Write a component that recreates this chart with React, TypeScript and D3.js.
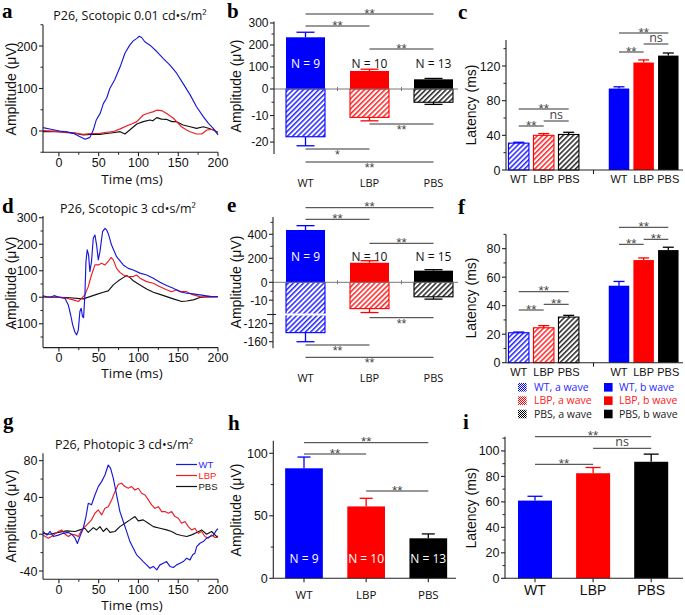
import React from 'react';
import * as d3 from 'd3';

type Pt = [number, number];

const GROUPS = ['WT', 'LBP', 'PBS'];
const TIME_TICKS = [0, 50, 100, 150, 200];
const TIME_MINOR = [25, 75, 125, 175];

// ---- ERG traces (time ms, amplitude uV) ----
const A_WT: Pt[] = [[-20,7.8],[-10,4],[1,0],[10,-2],[18,-5.5],[26,-13],[33,-19.6],[39,-15],[43,1],[47,26],[52,42],[56,65],[60,77],[64,100],[70,120],[77,151],[83,183],[89,202],[93.5,212],[98,218],[101,223],[104,220],[108,210],[114.5,202],[123,187],[131,171],[139.6,155],[148,136],[156,112],[165,85],[173,57],[181.5,34],[188,18],[194,6],[200,-9]];
const A_LBP: Pt[] = [[-20,1],[-5,-1],[10,-4],[20,-5],[30.6,-7.8],[40,-6],[51.6,-5.5],[60,-3],[68,-1.6],[77,5],[85,12],[92,17],[98,22],[106,37.6],[112,41.6],[118,45],[123,49],[129,48],[135,41.6],[144,30],[150,18],[154,10],[160,3],[165,-1.6],[173,-7],[179.5,-7],[186,2.4],[194,4],[200,-5.5]];
const A_PBS: Pt[] = [[-20,-1.6],[-5,-1],[10,-3],[20,-5],[30.6,-9.4],[40,-8],[51.6,-7.8],[60,-6],[68,-4],[77,-1.6],[83,-7],[89,2.4],[98,16.5],[106,22],[114.5,26],[118,24],[123,31.4],[129,28],[135,27.5],[142,22],[148,22],[156,14],[165,10],[173,6.3],[181.5,10],[188,6.3],[194,2.4],[200,-3]];

const D_WT: Pt[] = [[-20,5],[-15,2],[-11,0],[-6,6],[1,-1],[7.6,-4],[11.8,-29],[14.8,-67],[17.3,-104],[20.2,-132],[22.3,-142],[24.4,-123],[26.4,-54],[28,-41.5],[29.7,-73],[31,-77],[32.7,9],[34,135],[35.6,179],[37.3,160],[38.9,97],[41,135],[43.2,223],[45.3,235],[47.4,197],[49.5,141],[51.6,172],[54.9,248],[57.9,260],[60,254],[62,241],[66.2,197],[72.5,153],[80.9,122],[87.2,109],[93.5,103],[101.9,91],[110.3,84],[118.7,72],[127,57],[135.4,44],[143.8,34],[152.2,21],[160.6,15],[169,12.6],[177.3,8.8],[185.7,5],[192,2.5],[200,2.5]];
const D_LBP: Pt[] = [[-20,1],[1,1],[9.6,-4],[18,-10],[24.4,-16],[28.6,-4],[32.7,9],[36.9,40],[41,84],[45.3,122],[49.5,122],[53.7,128],[57.9,122],[62,135],[65.4,150],[68.4,141],[72.5,109],[76.7,94],[80.9,84],[87.2,78],[93.5,78],[97.7,84],[101.9,72],[110.3,59],[118.7,53],[127,40],[135.4,28],[141.7,21],[148,28],[154.3,21],[160.6,21],[166.9,11],[177.3,2.5],[187.8,0],[200,2.5]];
const D_PBS: Pt[] = [[-20,1],[9.6,-1],[30.6,-6],[39,2.5],[47.4,11],[55.8,19],[62,24],[68.4,46.5],[74.7,62],[80.9,74],[85.2,82],[89.3,74],[93.5,62],[101.9,46.5],[110.3,31],[118.7,19],[127,11],[135.4,2.5],[143.8,-6],[154.3,-16],[160.6,-14],[169,-10],[177.3,-1],[187.8,2.5],[200,2.5]];

const G_WT: Pt[] = [[-20,3],[-15,-1],[-11,3],[-7,-2.5],[-0.7,-1],[5.6,1],[11.9,2],[16,0],[20.2,-4],[23.2,-10],[26.4,-2.5],[30.6,6.5],[34,19],[36.9,33.7],[41,32],[45.3,42.7],[49.5,51.8],[53.7,57.2],[57.9,64.4],[62,75.3],[65,71.7],[68.4,60.8],[72.5,42.7],[76.7,24.6],[80.9,13.8],[85.2,2.9],[89.3,-8],[93.5,-15.2],[97.7,-22.4],[101.9,-26],[106,-29.7],[110.3,-33.3],[114.5,-37],[118.7,-35],[123,-38.7],[127,-33.3],[131.2,-31.5],[135.4,-29.7],[139.6,-35],[143.8,-36.2],[148,-33.3],[152.2,-31.5],[156.4,-29.7],[160.6,-26],[164.8,-27.9],[168.2,-22.4],[171,-20.6],[173.2,-13.4],[177.3,-9.8],[181.5,-8],[185.7,-4.3],[189.9,-2.5],[194,-1.4],[198.3,4.7],[200,6]];
const G_LBP: Pt[] = [[-20,-1],[-13.2,-4.3],[-6.9,-1],[-0.7,3],[3.5,4.7],[7.7,0],[11.9,-2.5],[16,0],[20.2,-0.7],[24.4,-2.5],[28.6,4.7],[34.8,10],[41,15.6],[45.3,22.8],[49.5,26.4],[53.7,21],[57.9,28.2],[62,30],[66.3,37.3],[70.4,46.3],[74.7,54.3],[78.8,55.4],[83,51.8],[87.2,50],[91.4,51.8],[95.6,48.1],[99.8,50],[104,44.5],[108.2,42.7],[112.4,37.3],[116.6,31.9],[120.8,28.2],[125,30],[129.2,24.6],[133.3,24.6],[137.5,22.8],[141.7,24.6],[145.9,19.2],[150.1,17.4],[154.3,12],[158.5,13.8],[162.7,8.3],[166.9,4.7],[171,6.5],[175.2,1],[179.4,3],[183.6,-2.5],[187.8,-4.3],[192,-0.7],[196.2,-3.6],[200,-3.6]];
const G_PBS: Pt[] = [[-20,1],[-11,0],[-0.7,2],[9.8,3.6],[20.2,3],[26.4,4.7],[32.7,6.5],[36.9,2],[43.2,7.2],[47.4,4.7],[51.6,8.3],[55.8,3],[60,6.5],[64.2,2],[70.4,3],[76.7,8.3],[83,12],[89.3,15.6],[95.6,19.2],[99.8,14.5],[106,15.6],[112.4,12],[118.7,8.3],[127,6.5],[135.4,4.7],[141.7,3],[148,0],[154.3,-1.4],[160.6,-2.5],[166.9,-0.7],[173.2,2],[179.4,4.7],[185.7,0],[192,3],[198.3,-2.5],[200,-2]];

// ---- bar data ----
const B_BWAVE = [235, 82, 44];
const B_BWAVE_SEM = [23, 8, 4];
const B_AWAVE = [-18, -10.7, -5];
const B_AWAVE_SEM = [3.4, 1.3, 0.8];
const B_N = ['N = 9', 'N = 10', 'N = 13'];

const E_BWAVE = [436, 163, 97];
const E_BWAVE_SEM = [36, 17, 8];
const E_AWAVE = [-140, -14.7, -8.1];
const E_AWAVE_SEM = [20, 2.2, 1.3];
const E_N = ['N = 9', 'N = 10', 'N = 15'];

const C_AWAVE = [31, 40, 41];
const C_AWAVE_SEM = [1, 2, 2.5];
const C_BWAVE = [94, 124, 132];
const C_BWAVE_SEM = [2, 3, 3];

const F_AWAVE = [21, 24.5, 32];
const F_AWAVE_SEM = [0.5, 1.5, 1.2];
const F_BWAVE = [54, 72, 79];
const F_BWAVE_SEM = [3, 1.5, 2];

const H_AMP = [88, 57.5, 32];
const H_SEM = [9, 6.5, 3.5];
const H_N = ['N = 9', 'N = 10', 'N = 13'];

const I_LAT = [61, 82.5, 91.5];
const I_SEM = [3.4, 4.5, 6];

const LEGEND_A = ['WT, a wave', 'LBP, a wave', 'PBS, a wave'];
const LEGEND_B = ['WT, b wave', 'LBP, b wave', 'PBS, b wave'];

// significance comparisons [from, to, label]
const B_SIG_UP = [['WT', 'PBS', '**'], ['WT', 'LBP', '**'], ['LBP', 'PBS', '**']];
const B_SIG_DOWN = [['LBP', 'PBS', '**'], ['WT', 'LBP', '*'], ['WT', 'PBS', '**']];
const E_SIG_UP = [['WT', 'PBS', '**'], ['WT', 'LBP', '**'], ['LBP', 'PBS', '**']];
const E_SIG_DOWN = [['LBP', 'PBS', '**'], ['WT', 'LBP', '**'], ['WT', 'PBS', '**']];
const C_SIG_A = [['WT', 'PBS', '**'], ['WT', 'LBP', '**'], ['LBP', 'PBS', 'ns']];
const C_SIG_B = [['WT', 'PBS', '**'], ['WT', 'LBP', '**'], ['LBP', 'PBS', 'ns']];
const F_SIG_A = [['WT', 'PBS', '**'], ['WT', 'LBP', '**'], ['LBP', 'PBS', '**']];
const F_SIG_B = [['WT', 'PBS', '**'], ['WT', 'LBP', '**'], ['LBP', 'PBS', '**']];
const H_SIG = [['WT', 'PBS', '**'], ['WT', 'LBP', '**'], ['LBP', 'PBS', '**']];
const I_SIG = [['WT', 'PBS', '**'], ['LBP', 'PBS', 'ns'], ['WT', 'LBP', '**']];

// ---- styles ----
const SANS = "'Liberation Sans', Arial, Helvetica, sans-serif";
const OPEN = "'Open Sans', 'Noto Sans', sans-serif";
const SERIF = "'Liberation Serif', 'Times New Roman', serif";
const BAR_COLORS = ['#0000ff', '#ff0000', '#000000'];
const HATCH_IDS = ['hBlue', 'hRed', 'hBlack'];
const XH_IDS = ['xBlue', 'xRed', 'xBlack'];
const LINE_COLORS = ['#1818d8', '#ec1c24', '#111111'];
const LEG_TEXT = ['#2a2aff', '#ff2020', '#222'];
const AX = '#222';

function YAxis({ scale, x, top, bottom, major, minor = [], fs = 12.5 }: any) {
  return (
    <g>
      <line x1={x} x2={x} y1={top} y2={bottom} stroke={AX} strokeWidth={1.1} />
      {major.map((t: number) => (
        <g key={'M' + t}>
          <line x1={x - 4} x2={x} y1={scale(t)} y2={scale(t)} stroke={AX} strokeWidth={1.1} />
          <text x={x - 5.5} y={scale(t)} dy="0.36em" textAnchor="end" fontSize={fs} fontFamily={SANS} fill="#111">{String(t)}</text>
        </g>
      ))}
      {minor.map((t: number) => (
        <line key={'m' + t} x1={x - 2.5} x2={x} y1={scale(t)} y2={scale(t)} stroke={AX} strokeWidth={1} />
      ))}
    </g>
  );
}

function TimeAxis({ scale, y, labelY }: any) {
  const [x0, x1] = scale.range();
  return (
    <g>
      <line x1={x0} x2={x1} y1={y} y2={y} stroke={AX} strokeWidth={1.1} />
      {TIME_TICKS.map((t) => (
        <g key={t}>
          <line x1={scale(t)} x2={scale(t)} y1={y} y2={y + 4} stroke={AX} strokeWidth={1.1} />
          <text x={scale(t)} y={labelY} textAnchor="middle" fontSize={12.5} fontFamily={SANS} fill="#111">{String(t)}</text>
        </g>
      ))}
      {TIME_MINOR.map((t) => (
        <line key={'m' + t} x1={scale(t)} x2={scale(t)} y1={y} y2={y + 2.5} stroke={AX} />
      ))}
    </g>
  );
}

function YLabel({ x, y, text, fs = 14 }: any) {
  return (
    <text transform={`translate(${x},${y}) rotate(-90)`} textAnchor="middle" fontSize={fs} fontFamily={SANS} fill="#111">{text}</text>
  );
}

function Letter({ x, y, t }: any) {
  return <text x={x} y={y} fontSize={21} fontWeight="bold" fontFamily={SERIF} fill="#000">{t}</text>;
}

function Sig({ x1, x2, y, label, below = false }: any) {
  const cx = (x1 + x2) / 2;
  const star = label.includes('*');
  const ty = below ? y + 10 : star ? y + 3.5 : y - 2.5;
  const fs = star ? (below ? 12.5 : 13.5) : 12.5;
  return (
    <g>
      <line x1={x1} x2={x2} y1={y} y2={y} stroke="#333" strokeWidth={1} />
      <text x={cx} y={ty} textAnchor="middle" fontSize={fs} fontFamily={star ? SANS : OPEN} fill="#444">{label}</text>
    </g>
  );
}

function Bar({ cx, w, v, err, scale, i, hatch = false, cap }: any) {
  const y0 = scale(0);
  const y1 = scale(v);
  const end = scale(v + Math.sign(v) * err);
  const color = BAR_COLORS[i];
  return (
    <g>
      <line x1={cx} x2={cx} y1={y1} y2={end} stroke={color} strokeWidth={1.3} />
      <line x1={cx - cap / 2} x2={cx + cap / 2} y1={end} y2={end} stroke={color} strokeWidth={1.3} />
      <rect x={cx - w / 2} y={Math.min(y0, y1)} width={w} height={Math.abs(y1 - y0)}
        fill={hatch ? `url(#${HATCH_IDS[i]})` : color} stroke={color} strokeWidth={hatch ? 1.1 : 0} />
    </g>
  );
}

function Trace({ data, xs, ys, i }: any) {
  const line = d3.line<Pt>().x((d) => xs(d[0])).y((d) => ys(d[1]));
  return <path d={line(data) || ''} fill="none" stroke={LINE_COLORS[i]} strokeWidth={1.15} strokeLinejoin="round" />;
}

function CatLabels({ xs, y, fs, family }: any) {
  return (
    <g>
      {GROUPS.map((g) => (
        <text key={g} x={xs(g)} y={y} textAnchor="middle" fontSize={fs} fontFamily={family} fill="#111">{g}</text>
      ))}
    </g>
  );
}

// ---------------- Panels ----------------
function PanelA() {
  const xs = d3.scaleLinear().domain([-20, 200]).range([43, 218]);
  const ys = d3.scaleLinear().domain([-50, 250]).range([152.25, 24.75]);
  return (
    <g>
      <Letter x={2} y={18} t="a" />
      <text x={130} y={20} textAnchor="middle" fontSize={12.5} fontFamily={OPEN} fill="#111">P26, Scotopic 0.01 cd•s/m²</text>
      {[A_PBS, A_LBP, A_WT].map((d, k) => <Trace key={k} data={d} xs={xs} ys={ys} i={2 - k} />)}
      <YAxis scale={ys} x={43} top={24.75} bottom={152.25} major={[0, 100, 200]} minor={[-50, 50, 150, 250]} />
      <TimeAxis scale={xs} y={152.25} labelY={167} />
      <YLabel x={16} y={89} text="Amplitude (μV)" />
      <text x={132} y={183.5} textAnchor="middle" fontSize={13.5} fontFamily={OPEN} fill="#111">Time (ms)</text>
    </g>
  );
}

function PanelD() {
  const xs = d3.scaleLinear().domain([-20, 200]).range([43, 218]);
  const ys = d3.scaleLinear().domain([-190, 300]).range([347.6, 217.75]);
  return (
    <g>
      <Letter x={2} y={213} t="d" />
      <text x={128} y={213} textAnchor="middle" fontSize={12.5} fontFamily={OPEN} fill="#111">P26, Scotopic 3 cd•s/m²</text>
      {[D_PBS, D_LBP, D_WT].map((d, k) => <Trace key={k} data={d} xs={xs} ys={ys} i={2 - k} />)}
      <YAxis scale={ys} x={43} top={216} bottom={347.6} major={[-100, 0, 100, 200, 300]} minor={[-150, -50, 50, 150, 250]} />
      <TimeAxis scale={xs} y={347.6} labelY={361.5} />
      <YLabel x={16} y={283} text="Amplitude (μV)" />
      <text x={132} y={378} textAnchor="middle" fontSize={13.5} fontFamily={OPEN} fill="#111">Time (ms)</text>
    </g>
  );
}

function PanelG() {
  const xs = d3.scaleLinear().domain([-20, 200]).range([43, 218]);
  const ys = d3.scaleLinear().domain([-49, 88]).range([579.3, 453.3]);
  const legY = [464.5, 475.5, 486.5];
  return (
    <g>
      <Letter x={3} y={428} t="g" />
      <text x={124} y={449} textAnchor="middle" fontSize={12.5} fontFamily={OPEN} fill="#111">P26, Photopic 3 cd•s/m²</text>
      {[G_PBS, G_LBP, G_WT].map((d, k) => <Trace key={k} data={d} xs={xs} ys={ys} i={2 - k} />)}
      <YAxis scale={ys} x={43} top={453.3} bottom={579.3} major={[-40, 0, 40, 80]} minor={[-20, 20, 60]} />
      <TimeAxis scale={xs} y={579.3} labelY={594} />
      <YLabel x={16} y={516} text="Amplitude (μV)" />
      <text x={132} y={610} textAnchor="middle" fontSize={13.5} fontFamily={OPEN} fill="#111">Time (ms)</text>
      {GROUPS.map((g, i) => (
        <g key={g}>
          <line x1={176} x2={197} y1={legY[i]} y2={legY[i]} stroke={LINE_COLORS[i]} strokeWidth={1.2} />
          <text x={198.5} y={legY[i] + 3.5} fontSize={9.5} fontFamily={SANS} fill={LEG_TEXT[i]}>{g}</text>
        </g>
      ))}
    </g>
  );
}

function SplitPanel({ ys, axisX, top, bottom, major, minor, bwave, bsem, awave, asem, nLabels, nY, sigUp, sigUpY, sigDown, sigDownY, catY, letterY, letter, yLabelY, breakY }: any) {
  const xs = d3.scalePoint<string>().domain(GROUPS).range([305.5, 433.5]);
  const W = 39;
  return (
    <g>
      <Letter x={227} y={letterY} t={letter} />
      {GROUPS.map((g, i) => (
        <g key={g}>
          <Bar cx={xs(g)} w={W} v={bwave[i]} err={bsem[i]} scale={ys} i={i} cap={18} />
          <Bar cx={xs(g)} w={W} v={awave[i]} err={asem[i]} scale={ys} i={i} cap={18} hatch />
        </g>
      ))}
      {breakY !== undefined && (
        <g>
          <line x1={axisX + 3} x2={axisX + 60} y1={breakY} y2={breakY} stroke="#fff" strokeWidth={1.8} />
          <line x1={axisX - 6} x2={axisX + 3} y1={breakY} y2={breakY} stroke={AX} strokeWidth={1.1} />
        </g>
      )}
      <line x1={axisX} x2={458} y1={ys(0)} y2={ys(0)} stroke="#777" strokeWidth={1} />
      {[337.5, 401.5].map((x) => <line key={x} x1={x} x2={x} y1={ys(0) - 2} y2={ys(0) + 2} stroke="#777" />)}
      <YAxis scale={ys} x={axisX} top={top} bottom={bottom} major={major} minor={minor} fs={12} />
      {GROUPS.map((g, i) => (
        <text key={g} x={xs(g)} y={nY} textAnchor="middle" fontSize={12} fontFamily={OPEN} fill={i === 0 ? '#fff' : '#111'}>{nLabels[i]}</text>
      ))}
      {sigUp.map((s: string[], k: number) => <Sig key={'u' + k} x1={xs(s[0])} x2={xs(s[1])} y={sigUpY[k]} label={s[2]} />)}
      {sigDown.map((s: string[], k: number) => <Sig key={'d' + k} x1={xs(s[0])} x2={xs(s[1])} y={sigDownY[k]} label={s[2]} below />)}
      <CatLabels xs={xs} y={catY} fs={11} family={OPEN} />
      <YLabel x={241} y={yLabelY} text="Amplitude (μV)" />
    </g>
  );
}

function PanelB() {
  const ys = d3.scaleLinear().domain([-24.5, 0, 300]).range([154, 89, 23]);
  return (
    <SplitPanel ys={ys} axisX={274} top={21.5} bottom={154} major={[300, 200, 100, 0, -10, -20]} minor={[250, 150, 50, -5, -15]}
      bwave={B_BWAVE} bsem={B_BWAVE_SEM} awave={B_AWAVE} asem={B_AWAVE_SEM} nLabels={B_N} nY={67.5}
      sigUp={B_SIG_UP} sigUpY={[14, 26, 49]} sigDown={B_SIG_DOWN} sigDownY={[124, 149, 162]}
      catY={186.5} letter="b" letterY={18} yLabelY={86} />
  );
}

function PanelE() {
  const ys = d3.scaleLinear().domain([-174.5, -100, -18, 0, 545]).range([348.3, 314.5, 314.5, 282.3, 216.9]);
  return (
    <SplitPanel ys={ys} axisX={273} top={216.9} bottom={348.3} major={[400, 200, 0, -10, -120, -160]} minor={[500, 300, 100, -5, -140]}
      bwave={E_BWAVE} bsem={E_BWAVE_SEM} awave={E_AWAVE} asem={E_AWAVE_SEM} nLabels={E_N} nY={261}
      sigUp={E_SIG_UP} sigUpY={[207.7, 219.3, 243.3]} sigDown={E_SIG_DOWN} sigDownY={[317.7, 345, 357.3]}
      catY={382} letter="e" letterY={212} yLabelY={282} breakY={314.5} />
  );
}

function LatencyPanel({ ys, top, bottom, major, minor, aw, asem, bw, bsem, sigA, sigAY, sigB, sigBY, catY, letter, letterY, yLabelY }: any) {
  const xa = d3.scalePoint<string>().domain(GROUPS).range([518.7, 568.7]);
  const xb = d3.scalePoint<string>().domain(GROUPS).range([619, 668.3]);
  const W = 20.5;
  return (
    <g>
      <Letter x={458} y={letterY} t={letter} />
      {GROUPS.map((g, i) => (
        <g key={g}>
          <Bar cx={xa(g)} w={W} v={aw[i]} err={asem[i]} scale={ys} i={i} cap={11} hatch />
          <Bar cx={xb(g)} w={W} v={bw[i]} err={bsem[i]} scale={ys} i={i} cap={11} />
        </g>
      ))}
      <YAxis scale={ys} x={506} top={top} bottom={bottom} major={major} minor={minor} />
      <line x1={506} x2={683} y1={bottom} y2={bottom} stroke={AX} strokeWidth={1.1} />
      <line x1={593.5} x2={593.5} y1={bottom} y2={bottom + 4} stroke={AX} strokeWidth={1.1} />
      {sigA.map((s: string[], k: number) => <Sig key={'a' + k} x1={xa(s[0])} x2={xa(s[1])} y={sigAY[k]} label={s[2]} />)}
      {sigB.map((s: string[], k: number) => <Sig key={'b' + k} x1={xb(s[0])} x2={xb(s[1])} y={sigBY[k]} label={s[2]} />)}
      <CatLabels xs={xa} y={catY} fs={11} family={SANS} />
      <CatLabels xs={xb} y={catY} fs={11} family={SANS} />
      <YLabel x={476} y={yLabelY} text="Latency (ms)" />
    </g>
  );
}

function PanelC() {
  const ys = d3.scaleLinear().domain([0, 150]).range([170, 40]);
  return (
    <LatencyPanel ys={ys} top={40} bottom={170} major={[0, 40, 80, 120]} minor={[20, 60, 100, 140]}
      aw={C_AWAVE} asem={C_AWAVE_SEM} bw={C_BWAVE} bsem={C_BWAVE_SEM}
      sigA={C_SIG_A} sigAY={[109, 126, 121]} sigB={C_SIG_B} sigBY={[33, 52, 44]}
      catY={182.5} letter="c" letterY={19} yLabelY={105} />
  );
}

function PanelF() {
  const ys = d3.scaleLinear().domain([0, 90]).range([362.7, 234.4]);
  return (
    <g>
      <LatencyPanel ys={ys} top={234.4} bottom={362.7} major={[0, 20, 40, 60, 80]} minor={[10, 30, 50, 70, 90]}
        aw={F_AWAVE} asem={F_AWAVE_SEM} bw={F_BWAVE} bsem={F_BWAVE_SEM}
        sigA={F_SIG_A} sigAY={[291.7, 310, 304.3]} sigB={F_SIG_B} sigBY={[227.3, 244.3, 239.3]}
        catY={376} letter="f" letterY={214} yLabelY={298} />
      {GROUPS.map((g, i) => {
        const cy = 387.3 + i * 13.35;
        return (
          <g key={g}>
            <rect x={518} y={cy - 4.3} width={8.6} height={8.6} fill={`url(#${XH_IDS[i]})`} />
            <text x={534} y={cy + 3.8} fontSize={10.5} fontFamily={OPEN} fill={LEG_TEXT[i]}>{LEGEND_A[i]}</text>
            <rect x={604} y={cy - 4.3} width={8.6} height={8.6} fill={BAR_COLORS[i]} />
            <text x={619} y={cy + 3.8} fontSize={10.5} fontFamily={OPEN} fill={LEG_TEXT[i]}>{LEGEND_B[i]}</text>
          </g>
        );
      })}
    </g>
  );
}

function PanelH() {
  const ys = d3.scaleLinear().domain([0, 110]).range([578.3, 440.8]);
  const xs = d3.scalePoint<string>().domain(GROUPS).range([304, 428.3]);
  return (
    <g>
      <Letter x={228} y={430} t="h" />
      {GROUPS.map((g, i) => (
        <g key={g}>
          <Bar cx={xs(g)} w={37.7} v={H_AMP[i]} err={H_SEM[i]} scale={ys} i={i} cap={13} />
          <text x={xs(g)} y={562.5} textAnchor="middle" fontSize={12} fontFamily={OPEN} fill="#fff">{H_N[i]}</text>
        </g>
      ))}
      <YAxis scale={ys} x={273.3} top={440.8} bottom={578.3} major={[0, 50, 100]} minor={[25, 75]} />
      <line x1={273.3} x2={456} y1={578.3} y2={578.3} stroke={AX} strokeWidth={1.1} />
      {GROUPS.map((g) => <line key={g} x1={xs(g)} x2={xs(g)} y1={578.3} y2={582.3} stroke={AX} strokeWidth={1.1} />)}
      {H_SIG.map((s, k) => <Sig key={k} x1={xs(s[0])} x2={xs(s[1])} y={[442.7, 454, 491][k]} label={s[2]} />)}
      <CatLabels xs={xs} y={598.5} fs={11.5} family={OPEN} />
      <YLabel x={241} y={510} text="Amplitude (μV)" />
    </g>
  );
}

function PanelI() {
  const ys = d3.scaleLinear().domain([0, 110]).range([578.3, 438.2]);
  const xs = d3.scalePoint<string>().domain(GROUPS).range([535, 651.2]);
  return (
    <g>
      <Letter x={463} y={429} t="i" />
      {GROUPS.map((g, i) => (
        <Bar key={g} cx={xs(g)} w={34} v={I_LAT[i]} err={I_SEM[i]} scale={ys} i={i} cap={15} />
      ))}
      <YAxis scale={ys} x={505} top={436.7} bottom={578.3} major={[0, 20, 40, 60, 80, 100]} minor={[10, 30, 50, 70, 90, 110]} />
      <line x1={505} x2={683} y1={578.3} y2={578.3} stroke={AX} strokeWidth={1.1} />
      {GROUPS.map((g) => <line key={g} x1={xs(g)} x2={xs(g)} y1={578.3} y2={582.3} stroke={AX} strokeWidth={1.1} />)}
      {I_SIG.map((s, k) => <Sig key={k} x1={xs(s[0])} x2={xs(s[1])} y={[436.7, 448.3, 464.3][k]} label={s[2]} />)}
      <CatLabels xs={xs} y={594.5} fs={14} family={SANS} />
      <YLabel x={476} y={508} text="Latency (ms)" />
    </g>
  );
}

export default function App() {
  return (
    <svg width={685} height={615} viewBox="0 0 685 615" style={{ position: 'absolute', left: 0, top: 0, background: '#fff' }}>
      <defs>
        {HATCH_IDS.map((id, i) => (
          <pattern key={id} id={id} patternUnits="userSpaceOnUse" width={3.6} height={3.6} patternTransform="rotate(45)">
            <rect width={3.6} height={3.6} fill="#fff" />
            <line x1={0.8} y1={0} x2={0.8} y2={3.6} stroke={BAR_COLORS[i]} strokeWidth={1.3} />
          </pattern>
        ))}
        {XH_IDS.map((id, i) => (
          <pattern key={id} id={id} patternUnits="userSpaceOnUse" width={2} height={2}>
            <rect width={2} height={2} fill="#fff" />
            <rect width={1} height={1} fill={BAR_COLORS[i]} />
            <rect x={1} y={1} width={1} height={1} fill={BAR_COLORS[i]} />
          </pattern>
        ))}
      </defs>
      <rect width={685} height={615} fill="#fff" />
      <PanelA />
      <PanelB />
      <PanelC />
      <PanelD />
      <PanelE />
      <PanelF />
      <PanelG />
      <PanelH />
      <PanelI />
    </svg>
  );
}
